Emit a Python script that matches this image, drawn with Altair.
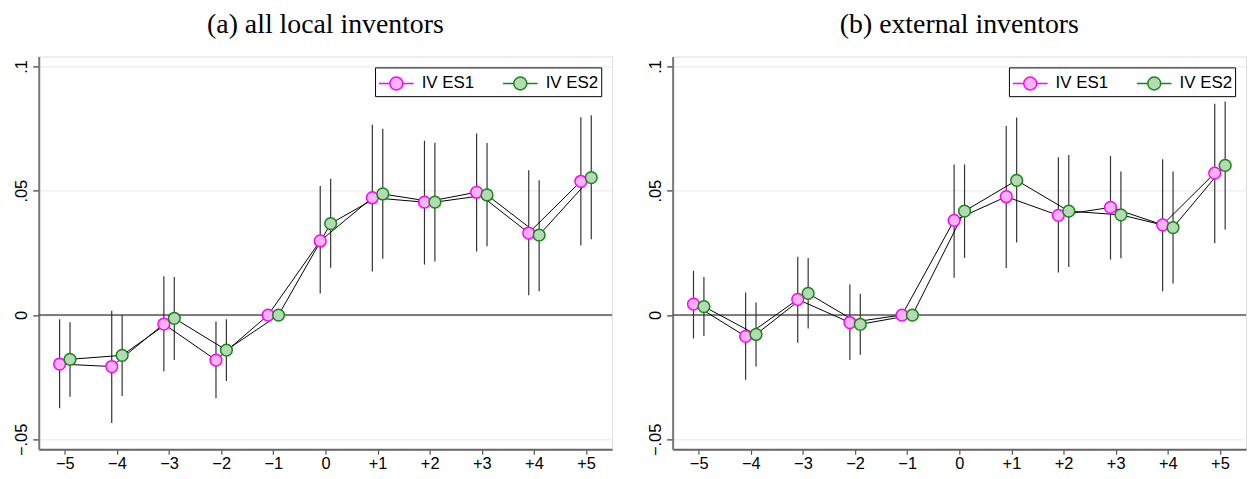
import altair as alt
import pandas as pd

# ---- data ----
periods = [-5, -4, -3, -2, -1, 0, 1, 2, 3, 4, 5]
series_names = ["IV ES1", "IV ES2"]

# (a) all local inventors
a_es1 = [-0.0197, -0.0207, -0.0036, -0.0181, 0.0, 0.0298, 0.0472, 0.0454, 0.0494, 0.0330, 0.0538]
a_es1_lo = [-0.0375, -0.0434, -0.0226, -0.0335, None, 0.0087, 0.0175, 0.0203, 0.0256, 0.0080, 0.0280]
a_es1_hi = [-0.0017, 0.0017, 0.0156, -0.0026, None, 0.0519, 0.0765, 0.0701, 0.0730, 0.0582, 0.0796]
a_es2 = [-0.0178, -0.0162, -0.0013, -0.0141, 0.0, 0.0368, 0.0487, 0.0454, 0.0483, 0.0322, 0.0553]
a_es2_lo = [-0.0329, -0.0326, -0.0181, -0.0265, None, 0.0190, 0.0226, 0.0215, 0.0277, 0.0096, 0.0305]
a_es2_hi = [-0.0029, 0.0000, 0.0153, -0.0017, None, 0.0548, 0.0749, 0.0693, 0.0692, 0.0542, 0.0804]

# (b) external inventors
b_es1 = [0.0044, -0.0086, 0.0063, -0.0030, 0.0, 0.0381, 0.0476, 0.0401, 0.0433, 0.0363, 0.0571]
b_es1_lo = [-0.0094, -0.0260, -0.0111, -0.0181, None, 0.0150, 0.0189, 0.0171, 0.0223, 0.0096, 0.0289]
b_es1_hi = [0.0178, 0.0091, 0.0235, 0.0123, None, 0.0606, 0.0760, 0.0635, 0.0640, 0.0627, 0.0850]
b_es2 = [0.0034, -0.0078, 0.0087, -0.0037, 0.0, 0.0418, 0.0542, 0.0418, 0.0403, 0.0352, 0.0602]
b_es2_lo = [-0.0084, -0.0207, -0.0054, -0.0160, None, 0.0230, 0.0292, 0.0193, 0.0228, 0.0127, 0.0344]
b_es2_hi = [0.0153, 0.0051, 0.0230, 0.0086, None, 0.0606, 0.0795, 0.0644, 0.0577, 0.0577, 0.0859]

panel_titles = ["(a) all local inventors", "(b) external inventors"]
y_ticks = [-0.05, 0, 0.05, 0.1]

fill_colors = ["#ffb3ff", "#b5d8b5"]
stroke_colors = ["#ff00ff", "#118a11"]


def build(est1, lo1, hi1, est2, lo2, hi2):
    rows = []
    for name, est, lo, hi in [(series_names[0], est1, lo1, hi1), (series_names[1], est2, lo2, hi2)]:
        for t, e, l, h in zip(periods, est, lo, hi):
            rows.append({"series": name, "t": t, "est": e, "lo": l, "hi": h})
    return pd.DataFrame(rows)


df_a = build(a_es1, a_es1_lo, a_es1_hi, a_es2, a_es2_lo, a_es2_hi)
df_b = build(b_es1, b_es1_lo, b_es1_hi, b_es2, b_es2_lo, b_es2_hi)

label_font = "Liberation Sans"
# line - circle - line symbol, circle drawn off-centre so the left line starts at the entry edge
legend_path = ("M-1,0L-0.091,0M1,0L1.909,0"
               "M-0.091,0A0.545,0.545 0 1,1 1,0A0.545,0.545 0 1,1 -0.091,0Z")

W, H = 578, 396


def panel(df, title):
    xs = alt.Scale(domain=[-5.5, 5.5], nice=False, zero=False)
    ys = alt.Scale(domain=[-0.054, 0.104], nice=False, zero=False)
    x_axis = alt.Axis(
        values=periods, title=None, grid=False,
        labelExpr="datum.value > 0 ? '+' + datum.value : (datum.value < 0 ? '\u2212' + abs(datum.value) : '0')",
        labelFont=label_font, labelFontSize=16.5, labelColor="black", labelPadding=1,
        tickSize=5, tickColor="#555", domainColor="#666", domainWidth=2, tickWidth=1.2,
    )
    y_axis = alt.Axis(
        values=y_ticks, title=None, grid=True, gridColor="#e8e8e8", gridWidth=1,
        labelExpr="datum.value == 0 ? '0' : replace(format(datum.value, '.2~f'), '0.', '.')",
        labelAngle=-90, labelFont=label_font, labelFontSize=16.5, labelColor="black", labelPadding=3,
        tickSize=6, tickColor="#333", domainColor="#777", domainWidth=2, tickWidth=1.2,
    )
    base = alt.Chart(df).transform_calculate(
        xp="datum.t + (datum.series == 'IV ES1' ? -0.1 : 0.1)"
    )
    frame = alt.Chart(df).mark_point(opacity=0).encode(
        x=alt.X("t:Q", scale=xs, axis=x_axis),
        y=alt.Y("est:Q", scale=ys, axis=y_axis),
    )
    zero = alt.Chart(pd.DataFrame({"y": [0]})).mark_rule(color="#555", strokeWidth=1.6).encode(
        y=alt.Y("y:Q", scale=ys)
    )
    ci = base.transform_filter("datum.lo != null").mark_rule(color="#333", strokeWidth=1.2).encode(
        x=alt.X("xp:Q", scale=xs),
        y=alt.Y("lo:Q", scale=ys),
        y2="hi:Q",
    )
    lines = base.mark_line(color="black", strokeWidth=1).encode(
        x=alt.X("xp:Q", scale=xs),
        y=alt.Y("est:Q", scale=ys),
        detail="series:N",
        order="t:Q",
    )
    leg = alt.Legend(
        title=None, orient="top-right", direction="horizontal", offset=11,
        strokeColor="black", fillColor="white", padding=3, cornerRadius=0,
        labelFont=label_font, labelFontSize=17, labelColor="black",
        symbolType=legend_path, symbolSize=576, symbolStrokeWidth=1.5,
        symbolOpacity=1, labelOffset=18, columnPadding=26,
    )
    pts = base.mark_point(filled=True, size=140, strokeWidth=1.5, opacity=1).encode(
        x=alt.X("xp:Q", scale=xs),
        y=alt.Y("est:Q", scale=ys),
        fill=alt.Fill("series:N", scale=alt.Scale(domain=series_names, range=fill_colors), legend=leg),
        stroke=alt.Stroke("series:N", scale=alt.Scale(domain=series_names, range=stroke_colors), legend=leg),
    )
    return alt.layer(frame, zero, ci, lines, pts).properties(
        width=W, height=H,
        title=alt.TitleParams(title, font="Liberation Serif", fontSize=28, fontWeight="normal",
                              color="black", anchor="middle", offset=18),
    )


chart = alt.hconcat(
    panel(df_a, panel_titles[0]), panel(df_b, panel_titles[1]), spacing=33
).resolve_legend(fill="independent", stroke="independent").resolve_scale(
    fill="independent", stroke="independent"
).properties(
    padding={"left": 5, "top": 0, "right": 0, "bottom": 0}
).configure_view(stroke=None).configure(background="white")

chart.save("out.html", embed_options={"renderer": "svg", "actions": False})
